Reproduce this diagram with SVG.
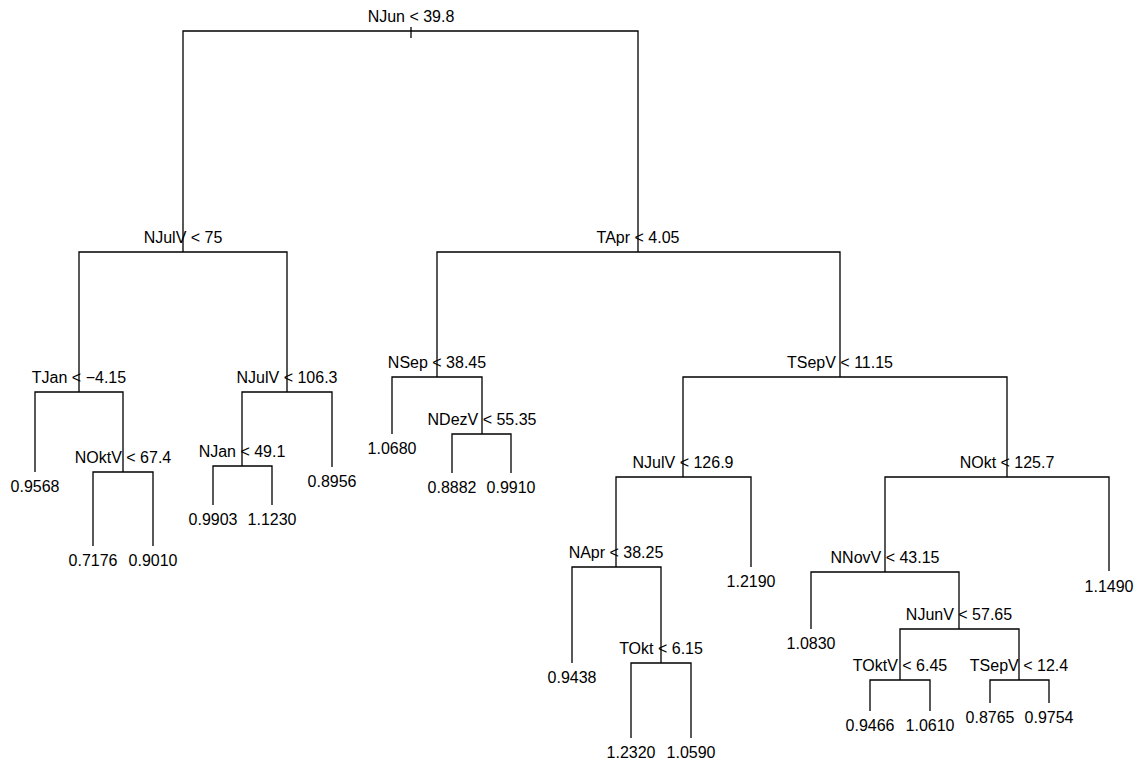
<svg xmlns="http://www.w3.org/2000/svg" width="1140" height="764" viewBox="0 0 1140 764">
<style>
text{font-family:"Liberation Sans",Arial,sans-serif;font-size:16px;fill:#000;text-anchor:middle}
.c{fill:none;stroke:#000;stroke-width:1.3}
</style>
<rect width="1140" height="764" fill="#fff"/>
<g id="connectors">
<path class="c" d="M411,27V38"/>
<path class="c" d="M183,252V31H638V252"/>
<path class="c" d="M79,392V252H287V392"/>
<path class="c" d="M437,377V252H840V377"/>
<path class="c" d="M35,472V392H123V472"/>
<path class="c" d="M93,546V472H153V546"/>
<path class="c" d="M242,466V392H332V467"/>
<path class="c" d="M213,505V466H272V505"/>
<path class="c" d="M392,434V377H482V434"/>
<path class="c" d="M452,473V434H511V473"/>
<path class="c" d="M683,477V377H1007V477"/>
<path class="c" d="M616,567V477H751V567"/>
<path class="c" d="M572,663V567H661V663"/>
<path class="c" d="M631,738V663H691V738"/>
<path class="c" d="M885,572V477H1109V571"/>
<path class="c" d="M811,629V572H959V629"/>
<path class="c" d="M900,680V629H1019V680"/>
<path class="c" d="M870,711V680H930V711"/>
<path class="c" d="M990,703V680H1049V703"/>
</g>
<g id="n_root"><text x="411" y="22">NJun &lt; 39.8</text></g>
<g id="n_njulv75"><text x="183" y="243">NJulV &lt; 75</text></g>
<g id="n_tapr"><text x="638" y="243">TApr &lt; 4.05</text></g>
<g id="n_tjan"><text x="79" y="383">TJan &lt; −4.15</text></g>
<g id="n_noktv"><text x="123" y="463">NOktV &lt; 67.4</text></g>
<g id="n_njulv106"><text x="287" y="383">NJulV &lt; 106.3</text></g>
<g id="n_njan"><text x="242" y="457">NJan &lt; 49.1</text></g>
<g id="n_nsep"><text x="437" y="368">NSep &lt; 38.45</text></g>
<g id="n_ndezv"><text x="482" y="425">NDezV &lt; 55.35</text></g>
<g id="n_tsepv11"><text x="840" y="368">TSepV &lt; 11.15</text></g>
<g id="n_njulv126"><text x="683" y="468">NJulV &lt; 126.9</text></g>
<g id="n_napr"><text x="616" y="558">NApr &lt; 38.25</text></g>
<g id="n_tokt"><text x="661" y="654">TOkt &lt; 6.15</text></g>
<g id="n_nokt"><text x="1007" y="468">NOkt &lt; 125.7</text></g>
<g id="n_nnovv"><text x="885" y="563">NNovV &lt; 43.15</text></g>
<g id="n_njunv"><text x="959" y="620">NJunV &lt; 57.65</text></g>
<g id="n_toktv"><text x="900" y="671">TOktV &lt; 6.45</text></g>
<g id="n_tsepv12"><text x="1019" y="671">TSepV &lt; 12.4</text></g>
<g id="l1"><text x="35" y="492">0.9568</text></g>
<g id="l2"><text x="93" y="566">0.7176</text></g>
<g id="l3"><text x="153" y="566">0.9010</text></g>
<g id="l4"><text x="213" y="525">0.9903</text></g>
<g id="l5"><text x="272" y="525">1.1230</text></g>
<g id="l6"><text x="332" y="487">0.8956</text></g>
<g id="l7"><text x="392" y="454">1.0680</text></g>
<g id="l8"><text x="452" y="493">0.8882</text></g>
<g id="l9"><text x="511" y="493">0.9910</text></g>
<g id="l10"><text x="572" y="683">0.9438</text></g>
<g id="l11"><text x="631" y="758">1.2320</text></g>
<g id="l12"><text x="691" y="758">1.0590</text></g>
<g id="l13"><text x="751" y="587">1.2190</text></g>
<g id="l14"><text x="811" y="649">1.0830</text></g>
<g id="l15"><text x="870" y="731">0.9466</text></g>
<g id="l16"><text x="930" y="731">1.0610</text></g>
<g id="l17"><text x="990" y="723">0.8765</text></g>
<g id="l18"><text x="1049" y="723">0.9754</text></g>
<g id="l19"><text x="1109" y="592">1.1490</text></g>
</svg>
